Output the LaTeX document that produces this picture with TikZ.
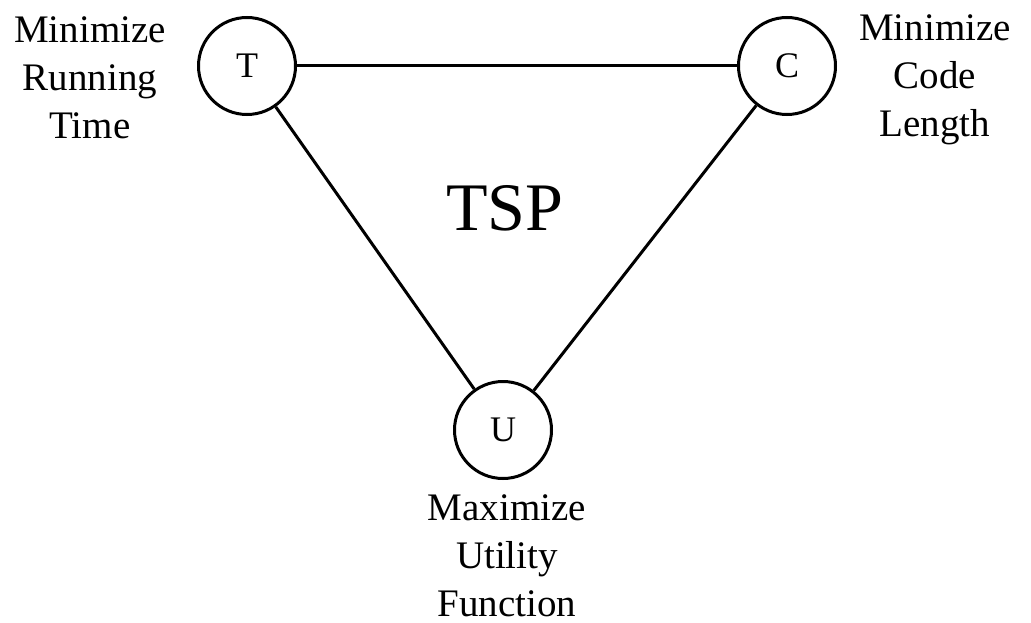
\documentclass[tikz,border=0pt]{standalone}
\usepackage{fontspec}
\setmainfont{Liberation Serif}
\begin{document}
\begin{tikzpicture}[x=1pt,y=-1pt,
  vert/.style={circle,draw,line width=3pt,minimum size=97pt,inner sep=0pt,font=\fontsize{36}{42}\selectfont},
  lbl/.style={align=center,inner sep=0pt,font=\fontsize{39}{48}\selectfont},
  edge/.style={line width=3pt}]
\useasboundingbox (0,0) rectangle (1031,623);
\node[vert] (T) at (247,66) {T};
\node[vert] (C) at (787,66) {C};
\node[vert] (U) at (503,430) {U};
\draw[edge] (T) -- (C);
\draw[edge] (T) -- (U);
\draw[edge] (C) -- (U);
\node[font=\fontsize{68}{80}\selectfont] (tsp) at (505,208) {TSP};
\node[lbl] (lt) at (90,78) {Minimize\\Running\\Time};
\node[lbl] (lc) at (935,80) {Minimize\\Code\\Length};
\node[lbl] (lu) at (507,556) {Maximize\\Utility\\Function};
\end{tikzpicture}
\end{document}
